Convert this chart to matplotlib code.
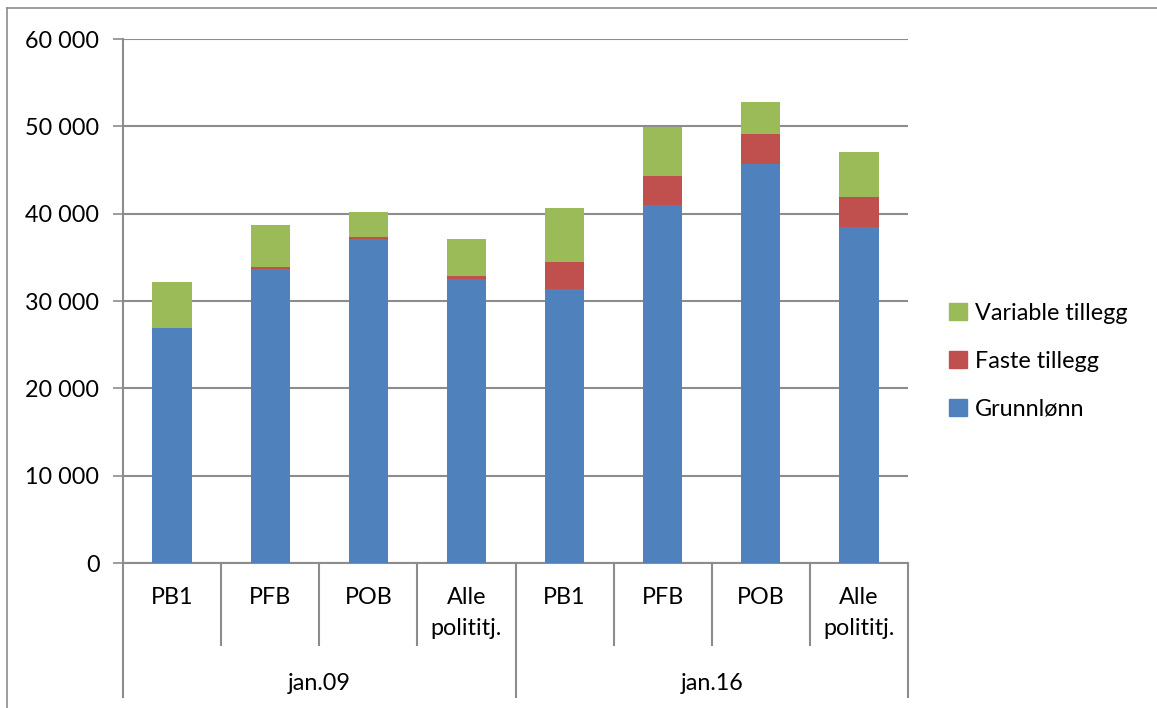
import matplotlib
matplotlib.use('Agg')
import matplotlib.pyplot as plt
from matplotlib.lines import Line2D
from matplotlib.patches import Patch
import numpy as np

# data (NOK per month)
groups = ['jan.09', 'jan.16']
categories = ['PB1', 'PFB', 'POB', 'Alle\npolititj.',
              'PB1', 'PFB', 'POB', 'Alle\npolititj.']
grunnlonn = [26950, 33670, 37070, 32530, 31370, 40960, 45720, 38470]
faste = [0, 260, 260, 350, 3130, 3320, 3370, 3480]
variable = [5190, 4770, 2870, 4220, 6120, 5680, 3730, 5110]
series_names = ['Grunnlønn', 'Faste tillegg', 'Variable tillegg']
colors = ['#4F81BD', '#C0504D', '#9BBB59']
yticks = [0, 10000, 20000, 30000, 40000, 50000, 60000]

plt.rcParams['font.family'] = ['Lato', 'DejaVu Sans']
FS = 16.8

fig = plt.figure(figsize=(11.57, 7.08), dpi=100)
ax = fig.add_axes([123 / 1157, 1 - 563 / 708, 785 / 1157, 524 / 708])

x = np.arange(len(categories))
bottom = np.zeros(len(categories))
for vals, name, col in zip([grunnlonn, faste, variable], series_names, colors):
    ax.bar(x, vals, width=0.4, bottom=bottom, color=col, label=name, zorder=3)
    bottom += np.array(vals)

ax.set_xlim(-0.5, len(categories) - 0.5)
ax.set_ylim(0, 60000)
ax.set_yticks(yticks)
ax.set_yticklabels([f'{v:,}'.replace(',', ' ') for v in yticks], fontsize=FS)
ax.yaxis.grid(True, color='#8C8C8C', linewidth=1.5, zorder=0)
ax.tick_params(axis='y', length=7, width=1.2, color='#8C8C8C', pad=10)
ax.set_xticks([])
for s in ['top', 'right']:
    ax.spines[s].set_visible(False)
ax.spines['left'].set_color('#8C8C8C')
ax.spines['left'].set_linewidth(1.5)
ax.spines['bottom'].set_color('#8C8C8C')
ax.spines['bottom'].set_linewidth(1.5)

# multi-level category axis
trans = ax.get_xaxis_transform()
inner_low = -82 / 524
outer_low = -134 / 524
for i in range(len(categories) + 1):
    xb = i - 0.5
    low = outer_low if i % 4 == 0 else inner_low
    ax.add_line(Line2D([xb, xb], [0, low], transform=trans, color='#8C8C8C',
                       linewidth=1.5, clip_on=False))
for i, lab in enumerate(categories):
    ax.text(i, -24 / 524, lab, transform=trans, ha='center', va='top',
            fontsize=FS, linespacing=1.6)
for g, name in enumerate(groups):
    ax.text(g * 4 + 1.5, -120 / 524, name, transform=trans, ha='center',
            va='center', fontsize=FS)

handles = [Patch(color=c) for c in colors[::-1]]
leg = fig.legend(handles, series_names[::-1], loc='center left',
                 bbox_to_anchor=(928 / 1157, 1 - 361 / 708), frameon=False,
                 fontsize=FS, handlelength=0.75, handleheight=0.75,
                 handletextpad=0.35, labelspacing=1.15)

# chart area outline (top and left edges visible)
fig.add_artist(Line2D([7 / 1157, 7 / 1157], [0, 1 - 8 / 708], color='#8C8C8C',
                      linewidth=1.2))
fig.add_artist(Line2D([7 / 1157, 1], [1 - 8 / 708, 1 - 8 / 708], color='#8C8C8C',
                      linewidth=1.2))

fig.savefig('out.png', dpi=100)
